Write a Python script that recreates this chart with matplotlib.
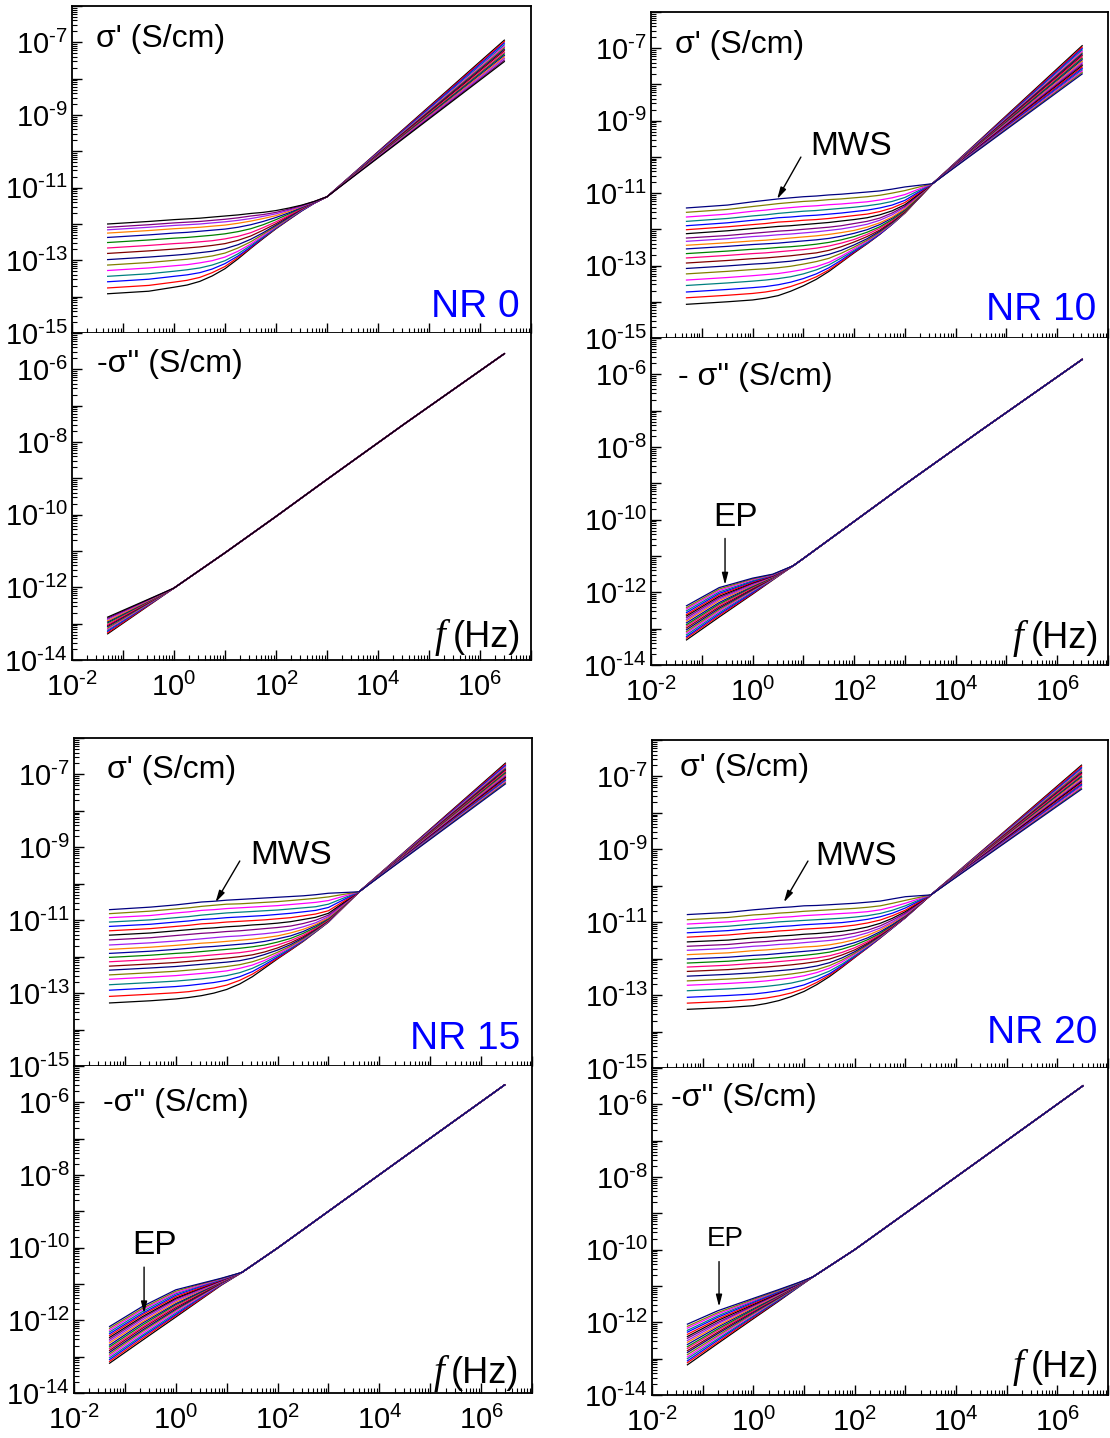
import numpy as np
import matplotlib
matplotlib.use('Agg')
import matplotlib.pyplot as plt
from matplotlib.ticker import FixedLocator, LogLocator, FuncFormatter, NullFormatter

plt.rcParams['font.family'] = ['Liberation Sans', 'DejaVu Sans']
plt.rcParams['mathtext.fontset'] = 'custom'
plt.rcParams['mathtext.rm'] = 'Liberation Sans'
plt.rcParams['mathtext.it'] = 'Liberation Sans:italic'
plt.rcParams['mathtext.bf'] = 'Liberation Sans:bold'

# Origin-like colour increment list, repeats every 14 curves
colors = ['#000000', '#FF0000', '#0000FF', '#008080', '#FF00FF', '#808000', '#000080',
          '#800000', '#FF0080', '#008000', '#0000A0', '#FF8000', '#A020F0', '#800080']

# ---------------- data: log10 values ----------------
# sigma' (real part), one row per temperature, columns follow freq_re_*
freq_re_nr0 = [0.05, 0.32, 1, 1.8, 3.2, 5.6, 10, 18, 32, 56, 100, 180, 320, 560, 1000, 3.0e6]
re_nr0 = [
    [-13.92, -13.85, -13.74, -13.68, -13.58, -13.43, -13.23, -12.96, -12.67, -12.40, -12.13, -11.88, -11.64, -11.43, -11.25, -6.94],
    [-13.76, -13.69, -13.60, -13.55, -13.47, -13.34, -13.17, -12.92, -12.65, -12.38, -12.12, -11.87, -11.63, -11.43, -11.25, -6.98],
    [-13.59, -13.52, -13.44, -13.40, -13.34, -13.24, -13.09, -12.88, -12.63, -12.37, -12.11, -11.86, -11.63, -11.43, -11.25, -7.02],
    [-13.44, -13.37, -13.30, -13.26, -13.21, -13.13, -13.01, -12.82, -12.59, -12.35, -12.10, -11.85, -11.62, -11.42, -11.25, -7.07],
    [-13.28, -13.21, -13.15, -13.12, -13.07, -13.01, -12.91, -12.75, -12.55, -12.32, -12.08, -11.84, -11.61, -11.42, -11.25, -7.11],
    [-13.13, -13.06, -13.00, -12.97, -12.93, -12.88, -12.80, -12.66, -12.49, -12.28, -12.06, -11.83, -11.60, -11.41, -11.25, -7.15],
    [-12.98, -12.91, -12.86, -12.83, -12.79, -12.75, -12.68, -12.57, -12.42, -12.24, -12.03, -11.81, -11.59, -11.41, -11.25, -7.19],
    [-12.81, -12.74, -12.69, -12.66, -12.63, -12.59, -12.54, -12.45, -12.33, -12.17, -11.99, -11.78, -11.58, -11.41, -11.25, -7.23],
    [-12.66, -12.59, -12.54, -12.52, -12.49, -12.46, -12.41, -12.34, -12.24, -12.10, -11.94, -11.76, -11.57, -11.40, -11.25, -7.28],
    [-12.51, -12.44, -12.39, -12.37, -12.34, -12.31, -12.27, -12.21, -12.13, -12.02, -11.88, -11.72, -11.55, -11.40, -11.25, -7.32],
    [-12.37, -12.30, -12.25, -12.23, -12.20, -12.17, -12.14, -12.09, -12.02, -11.93, -11.82, -11.69, -11.54, -11.40, -11.25, -7.36],
    [-12.25, -12.18, -12.13, -12.11, -12.09, -12.06, -12.03, -11.98, -11.92, -11.85, -11.77, -11.65, -11.52, -11.39, -11.25, -7.40],
    [-12.16, -12.09, -12.04, -12.02, -12.00, -11.97, -11.94, -11.90, -11.85, -11.79, -11.72, -11.62, -11.51, -11.39, -11.25, -7.44],
    [-12.09, -12.02, -11.97, -11.95, -11.93, -11.90, -11.87, -11.83, -11.78, -11.74, -11.68, -11.59, -11.49, -11.38, -11.25, -7.49],
    [-12.00, -11.93, -11.88, -11.86, -11.84, -11.81, -11.78, -11.75, -11.71, -11.68, -11.63, -11.56, -11.48, -11.38, -11.25, -7.53],
]

freq_re_nr10 = [0.05, 0.32, 1, 1.8, 3.2, 5.6, 10, 18, 32, 56, 100, 180, 320, 560, 1000, 3500, 3.1e6]
re_nr10 = [
    [-14.07, -14.00, -13.95, -13.90, -13.83, -13.71, -13.56, -13.38, -13.16, -12.91, -12.65, -12.40, -12.14, -11.86, -11.55, -10.74, -6.93],
    [-13.89, -13.82, -13.77, -13.73, -13.67, -13.58, -13.46, -13.31, -13.12, -12.89, -12.63, -12.39, -12.13, -11.86, -11.55, -10.74, -6.97],
    [-13.73, -13.66, -13.61, -13.58, -13.53, -13.46, -13.36, -13.23, -13.06, -12.85, -12.61, -12.38, -12.13, -11.86, -11.54, -10.74, -7.01],
    [-13.55, -13.48, -13.43, -13.40, -13.36, -13.31, -13.23, -13.12, -12.98, -12.79, -12.58, -12.36, -12.11, -11.85, -11.54, -10.74, -7.05],
    [-13.40, -13.33, -13.28, -13.25, -13.22, -13.17, -13.11, -13.03, -12.91, -12.74, -12.54, -12.33, -12.10, -11.84, -11.53, -10.74, -7.09],
    [-13.23, -13.16, -13.11, -13.09, -13.06, -13.02, -12.96, -12.89, -12.80, -12.66, -12.49, -12.30, -12.08, -11.83, -11.53, -10.74, -7.13],
    [-13.08, -13.01, -12.96, -12.94, -12.91, -12.88, -12.83, -12.77, -12.69, -12.58, -12.43, -12.26, -12.05, -11.81, -11.52, -10.74, -7.16],
    [-12.93, -12.86, -12.81, -12.79, -12.76, -12.73, -12.69, -12.65, -12.58, -12.48, -12.35, -12.20, -12.02, -11.79, -11.51, -10.74, -7.20],
    [-12.79, -12.72, -12.67, -12.65, -12.62, -12.59, -12.56, -12.52, -12.46, -12.38, -12.28, -12.14, -11.97, -11.76, -11.49, -10.74, -7.24],
    [-12.67, -12.60, -12.55, -12.53, -12.50, -12.48, -12.45, -12.41, -12.36, -12.29, -12.20, -12.08, -11.93, -11.73, -11.48, -10.74, -7.28],
    [-12.54, -12.47, -12.42, -12.40, -12.38, -12.35, -12.32, -12.29, -12.25, -12.19, -12.11, -12.01, -11.87, -11.69, -11.45, -10.74, -7.32],
    [-12.44, -12.37, -12.32, -12.30, -12.27, -12.24, -12.21, -12.18, -12.14, -12.09, -12.03, -11.94, -11.82, -11.66, -11.43, -10.74, -7.36],
    [-12.33, -12.26, -12.20, -12.18, -12.15, -12.13, -12.10, -12.07, -12.03, -11.99, -11.93, -11.86, -11.75, -11.60, -11.39, -10.74, -7.40],
    [-12.24, -12.17, -12.11, -12.08, -12.05, -12.03, -12.00, -11.97, -11.94, -11.90, -11.84, -11.78, -11.69, -11.55, -11.36, -10.74, -7.44],
    [-12.12, -12.04, -11.98, -11.95, -11.92, -11.90, -11.87, -11.84, -11.81, -11.77, -11.73, -11.68, -11.60, -11.49, -11.32, -10.74, -7.48],
    [-12.01, -11.93, -11.87, -11.84, -11.80, -11.78, -11.75, -11.73, -11.70, -11.66, -11.62, -11.58, -11.51, -11.41, -11.26, -10.74, -7.52],
    [-11.90, -11.82, -11.75, -11.72, -11.68, -11.66, -11.63, -11.61, -11.58, -11.55, -11.51, -11.47, -11.41, -11.33, -11.20, -10.74, -7.56],
    [-11.78, -11.70, -11.63, -11.60, -11.56, -11.53, -11.50, -11.48, -11.45, -11.42, -11.39, -11.35, -11.30, -11.23, -11.12, -10.74, -7.60],
    [-11.66, -11.58, -11.50, -11.47, -11.43, -11.40, -11.37, -11.35, -11.32, -11.30, -11.27, -11.24, -11.19, -11.13, -11.04, -10.74, -7.63],
    [-11.53, -11.45, -11.37, -11.33, -11.29, -11.26, -11.23, -11.21, -11.18, -11.16, -11.13, -11.10, -11.06, -11.00, -10.93, -10.74, -7.67],
    [-11.41, -11.33, -11.24, -11.20, -11.16, -11.13, -11.10, -11.08, -11.05, -11.03, -11.00, -10.97, -10.94, -10.89, -10.83, -10.74, -7.71],
]

freq_re_nr15 = [0.05, 0.32, 1, 1.8, 3.2, 5.6, 10, 18, 32, 56, 100, 180, 320, 560, 1000, 4000, 3.0e6]
re_nr15 = [
    [-13.27, -13.21, -13.16, -13.12, -13.07, -13.00, -12.90, -12.75, -12.55, -12.31, -12.06, -11.82, -11.58, -11.32, -11.05, -10.22, -6.69],
    [-13.09, -13.03, -12.99, -12.96, -12.91, -12.86, -12.78, -12.65, -12.48, -12.27, -12.04, -11.81, -11.57, -11.32, -11.05, -10.22, -6.72],
    [-12.92, -12.86, -12.82, -12.79, -12.75, -12.71, -12.65, -12.55, -12.41, -12.22, -12.01, -11.79, -11.56, -11.31, -11.04, -10.22, -6.75],
    [-12.77, -12.71, -12.67, -12.64, -12.61, -12.57, -12.52, -12.44, -12.32, -12.16, -11.97, -11.77, -11.55, -11.31, -11.04, -10.22, -6.78],
    [-12.62, -12.56, -12.52, -12.49, -12.46, -12.43, -12.39, -12.32, -12.23, -12.10, -11.93, -11.74, -11.53, -11.29, -11.03, -10.22, -6.80],
    [-12.50, -12.44, -12.40, -12.37, -12.34, -12.31, -12.27, -12.22, -12.14, -12.03, -11.88, -11.71, -11.51, -11.28, -11.02, -10.22, -6.83],
    [-12.37, -12.31, -12.27, -12.24, -12.21, -12.18, -12.15, -12.11, -12.04, -11.94, -11.82, -11.67, -11.48, -11.26, -11.01, -10.22, -6.86],
    [-12.26, -12.20, -12.16, -12.13, -12.10, -12.07, -12.04, -12.00, -11.95, -11.87, -11.76, -11.62, -11.45, -11.24, -11.00, -10.22, -6.89],
    [-12.14, -12.08, -12.03, -12.01, -11.98, -11.95, -11.92, -11.89, -11.84, -11.77, -11.68, -11.56, -11.41, -11.22, -10.99, -10.22, -6.92],
    [-12.02, -11.96, -11.91, -11.89, -11.86, -11.83, -11.80, -11.77, -11.73, -11.68, -11.60, -11.50, -11.36, -11.19, -10.97, -10.22, -6.95],
    [-11.91, -11.85, -11.80, -11.77, -11.74, -11.72, -11.69, -11.66, -11.63, -11.58, -11.51, -11.43, -11.31, -11.15, -10.95, -10.22, -6.98],
    [-11.80, -11.74, -11.69, -11.66, -11.63, -11.61, -11.58, -11.55, -11.52, -11.48, -11.43, -11.35, -11.25, -11.12, -10.93, -10.22, -7.00],
    [-11.68, -11.62, -11.57, -11.54, -11.51, -11.48, -11.45, -11.43, -11.40, -11.37, -11.33, -11.27, -11.18, -11.07, -10.90, -10.22, -7.03],
    [-11.54, -11.48, -11.42, -11.39, -11.36, -11.34, -11.31, -11.29, -11.26, -11.23, -11.20, -11.16, -11.09, -11.00, -10.86, -10.22, -7.06],
    [-11.41, -11.35, -11.29, -11.26, -11.23, -11.21, -11.18, -11.16, -11.13, -11.11, -11.08, -11.04, -10.98, -10.92, -10.81, -10.22, -7.09],
    [-11.29, -11.23, -11.17, -11.14, -11.10, -11.08, -11.05, -11.03, -11.01, -10.99, -10.96, -10.93, -10.88, -10.83, -10.74, -10.22, -7.12],
    [-11.17, -11.11, -11.05, -11.02, -10.98, -10.96, -10.93, -10.91, -10.89, -10.87, -10.84, -10.81, -10.77, -10.73, -10.65, -10.22, -7.15],
    [-11.05, -10.99, -10.93, -10.90, -10.86, -10.83, -10.80, -10.78, -10.76, -10.74, -10.72, -10.69, -10.66, -10.63, -10.56, -10.22, -7.17],
    [-10.93, -10.87, -10.80, -10.77, -10.73, -10.71, -10.68, -10.66, -10.64, -10.62, -10.60, -10.57, -10.54, -10.51, -10.46, -10.22, -7.20],
    [-10.82, -10.75, -10.69, -10.66, -10.62, -10.59, -10.56, -10.55, -10.53, -10.51, -10.49, -10.46, -10.43, -10.40, -10.36, -10.22, -7.23],
    [-10.71, -10.64, -10.58, -10.54, -10.50, -10.48, -10.45, -10.43, -10.41, -10.39, -10.37, -10.35, -10.33, -10.30, -10.26, -10.22, -7.26],
]

freq_re_nr20 = [0.05, 0.32, 1, 1.8, 3.2, 5.6, 10, 18, 32, 56, 100, 180, 320, 560, 1000, 3200, 3.0e6]
re_nr20 = [
    [-13.39, -13.34, -13.29, -13.23, -13.15, -13.04, -12.90, -12.71, -12.49, -12.24, -11.97, -11.70, -11.43, -11.16, -10.88, -10.25, -6.69],
    [-13.22, -13.17, -13.12, -13.08, -13.02, -12.94, -12.82, -12.65, -12.45, -12.22, -11.96, -11.70, -11.43, -11.15, -10.87, -10.25, -6.72],
    [-13.06, -13.01, -12.97, -12.93, -12.88, -12.81, -12.72, -12.58, -12.41, -12.19, -11.94, -11.69, -11.42, -11.15, -10.87, -10.25, -6.76],
    [-12.88, -12.83, -12.79, -12.76, -12.72, -12.67, -12.59, -12.48, -12.34, -12.15, -11.92, -11.67, -11.41, -11.14, -10.87, -10.25, -6.79],
    [-12.73, -12.68, -12.64, -12.61, -12.57, -12.53, -12.47, -12.38, -12.26, -12.09, -11.88, -11.65, -11.40, -11.14, -10.87, -10.25, -6.82],
    [-12.61, -12.56, -12.52, -12.49, -12.46, -12.42, -12.37, -12.30, -12.19, -12.04, -11.85, -11.63, -11.39, -11.13, -10.86, -10.25, -6.85],
    [-12.48, -12.43, -12.39, -12.36, -12.33, -12.30, -12.26, -12.20, -12.11, -11.98, -11.81, -11.60, -11.37, -11.12, -10.86, -10.25, -6.89],
    [-12.35, -12.30, -12.25, -12.23, -12.20, -12.17, -12.13, -12.08, -12.01, -11.90, -11.76, -11.57, -11.35, -11.11, -10.85, -10.25, -6.92],
    [-12.23, -12.18, -12.13, -12.11, -12.08, -12.05, -12.02, -11.98, -11.92, -11.83, -11.70, -11.53, -11.33, -11.10, -10.84, -10.25, -6.95],
    [-12.12, -12.07, -12.02, -12.00, -11.97, -11.94, -11.91, -11.87, -11.82, -11.74, -11.63, -11.48, -11.30, -11.08, -10.83, -10.25, -6.99],
    [-12.01, -11.96, -11.91, -11.89, -11.86, -11.83, -11.80, -11.77, -11.73, -11.66, -11.56, -11.43, -11.26, -11.06, -10.82, -10.25, -7.02],
    [-11.89, -11.84, -11.78, -11.76, -11.73, -11.71, -11.68, -11.66, -11.62, -11.56, -11.48, -11.36, -11.21, -11.02, -10.80, -10.25, -7.05],
    [-11.77, -11.72, -11.66, -11.64, -11.61, -11.59, -11.56, -11.53, -11.50, -11.46, -11.39, -11.29, -11.16, -10.99, -10.78, -10.25, -7.09],
    [-11.66, -11.61, -11.55, -11.53, -11.50, -11.48, -11.45, -11.43, -11.40, -11.36, -11.30, -11.22, -11.10, -10.94, -10.75, -10.25, -7.12],
    [-11.54, -11.49, -11.43, -11.41, -11.38, -11.36, -11.33, -11.31, -11.28, -11.25, -11.20, -11.13, -11.03, -10.89, -10.71, -10.25, -7.15],
    [-11.41, -11.35, -11.29, -11.27, -11.24, -11.22, -11.19, -11.17, -11.15, -11.12, -11.08, -11.02, -10.94, -10.82, -10.67, -10.25, -7.19],
    [-11.29, -11.23, -11.17, -11.15, -11.12, -11.10, -11.07, -11.05, -11.03, -11.01, -10.97, -10.92, -10.85, -10.75, -10.61, -10.25, -7.22],
    [-11.17, -11.11, -11.05, -11.02, -10.99, -10.97, -10.95, -10.93, -10.91, -10.89, -10.86, -10.82, -10.76, -10.67, -10.55, -10.25, -7.25],
    [-11.05, -10.99, -10.93, -10.90, -10.87, -10.85, -10.82, -10.80, -10.78, -10.76, -10.74, -10.71, -10.66, -10.58, -10.48, -10.25, -7.28],
    [-10.93, -10.87, -10.80, -10.78, -10.75, -10.73, -10.70, -10.68, -10.66, -10.64, -10.62, -10.59, -10.55, -10.48, -10.40, -10.25, -7.32],
    [-10.79, -10.73, -10.66, -10.63, -10.60, -10.58, -10.55, -10.54, -10.52, -10.50, -10.48, -10.45, -10.42, -10.36, -10.30, -10.25, -7.35],
]

# -sigma'' (imaginary part): per-curve low-frequency part + shared high-frequency line
freq_im_lo_nr0 = [0.05]
im_lo_nr0 = [[-13.28], [-13.25], [-13.21], [-13.18], [-13.15], [-13.12], [-13.08], [-13.05],
             [-13.02], [-12.98], [-12.95], [-12.92], [-12.88], [-12.85], [-12.82]]
freq_im_hi_nr0 = [1, 10, 100, 1000, 31600, 3.0e6]
im_hi_nr0 = [-12.02, -11.05, -10.05, -9.03, -7.52, -5.57]

freq_im_lo_nr10 = [0.05, 0.22, 1, 2.5]
im_lo_nr10 = [
    [-13.31, -12.68, -12.05, -11.66], [-13.26, -12.64, -12.03, -11.65], [-13.22, -12.60, -12.01, -11.64],
    [-13.17, -12.56, -11.98, -11.64], [-13.12, -12.52, -11.96, -11.63], [-13.08, -12.48, -11.94, -11.62],
    [-13.03, -12.44, -11.92, -11.61], [-12.98, -12.40, -11.90, -11.60], [-12.93, -12.36, -11.87, -11.60],
    [-12.89, -12.32, -11.85, -11.59], [-12.84, -12.28, -11.83, -11.58], [-12.79, -12.23, -11.81, -11.57],
    [-12.75, -12.19, -11.79, -11.56], [-12.70, -12.15, -11.76, -11.56], [-12.65, -12.11, -11.74, -11.55],
    [-12.61, -12.07, -11.72, -11.54], [-12.56, -12.03, -11.70, -11.53], [-12.51, -11.99, -11.68, -11.52],
    [-12.46, -11.95, -11.65, -11.52], [-12.42, -11.91, -11.63, -11.51], [-12.37, -11.87, -11.61, -11.50],
]
freq_im_hi_nr10 = [6.3, 10, 100, 1000, 31600, 3.1e6]
im_hi_nr10 = [-11.27, -11.07, -10.05, -9.03, -7.54, -5.59]

freq_im_lo_nr15 = [0.05, 0.22, 1, 2.8, 7.9]
im_lo_nr15 = [
    [-13.18, -12.55, -11.91, -11.47, -11.03], [-13.13, -12.50, -11.87, -11.45, -11.02],
    [-13.08, -12.45, -11.84, -11.42, -11.01], [-13.03, -12.41, -11.80, -11.40, -11.00],
    [-12.98, -12.36, -11.76, -11.38, -10.99], [-12.93, -12.31, -11.72, -11.35, -10.98],
    [-12.88, -12.27, -11.69, -11.33, -10.97], [-12.83, -12.22, -11.65, -11.31, -10.96],
    [-12.78, -12.18, -11.61, -11.28, -10.95], [-12.73, -12.13, -11.57, -11.26, -10.94],
    [-12.68, -12.08, -11.54, -11.24, -10.94], [-12.62, -12.04, -11.50, -11.21, -10.93],
    [-12.57, -11.99, -11.46, -11.19, -10.92], [-12.52, -11.94, -11.42, -11.16, -10.91],
    [-12.47, -11.90, -11.39, -11.14, -10.90], [-12.42, -11.85, -11.35, -11.12, -10.89],
    [-12.37, -11.81, -11.31, -11.09, -10.88], [-12.32, -11.76, -11.27, -11.07, -10.87],
    [-12.27, -11.71, -11.24, -11.05, -10.86], [-12.22, -11.67, -11.20, -11.02, -10.85],
    [-12.17, -11.62, -11.16, -11.00, -10.84],
]
freq_im_hi_nr15 = [20, 100, 1000, 31600, 2.9e6]
im_hi_nr15 = [-10.68, -10.01, -9.00, -7.49, -5.52]

freq_im_lo_nr20 = [0.05, 0.2, 1, 3.0, 7.6]
im_lo_nr20 = [
    [-13.17, -12.58, -11.90, -11.44, -11.04], [-13.11, -12.54, -11.87, -11.42, -11.03],
    [-13.06, -12.49, -11.84, -11.41, -11.03], [-13.00, -12.45, -11.82, -11.39, -11.02],
    [-12.95, -12.40, -11.79, -11.37, -11.01], [-12.89, -12.36, -11.76, -11.36, -11.01],
    [-12.83, -12.31, -11.73, -11.34, -11.00], [-12.78, -12.27, -11.70, -11.32, -10.99],
    [-12.72, -12.22, -11.68, -11.31, -10.99], [-12.67, -12.18, -11.65, -11.29, -10.98],
    [-12.61, -12.13, -11.62, -11.28, -10.98], [-12.55, -12.09, -11.59, -11.26, -10.97],
    [-12.50, -12.04, -11.56, -11.24, -10.96], [-12.44, -12.00, -11.54, -11.23, -10.96],
    [-12.39, -11.95, -11.51, -11.21, -10.95], [-12.33, -11.91, -11.48, -11.19, -10.94],
    [-12.27, -11.86, -11.45, -11.18, -10.94], [-12.22, -11.82, -11.42, -11.16, -10.93],
    [-12.16, -11.77, -11.40, -11.14, -10.92], [-12.11, -11.73, -11.37, -11.13, -10.92],
    [-12.05, -11.68, -11.34, -11.11, -10.91],
]
freq_im_hi_nr20 = [15, 100, 1000, 31600, 3.2e6]
im_hi_nr20 = [-10.75, -10.00, -9.00, -7.50, -5.49]

# ---------------- figure ----------------
W, H = 1110, 1438
fig = plt.figure(figsize=(W / 100, H / 100), dpi=100)


def add_ax(l, t, r, b):
    return fig.add_axes([l / W, 1 - b / H, (r - l) / W, (b - t) / H])


def exp_fmt(keep):
    def f(v, pos):
        k = int(round(np.log10(v)))
        if k not in keep:
            return ''
        s = str(k).replace('-', '\u2010')
        return r'$10^{%s}$' % s
    return FuncFormatter(f)


def style(ax, ylo, yhi, ykeep, xlabels):
    ax.set_xscale('log')
    ax.set_yscale('log')
    ax.set_xlim(1e-2, 1e7)
    ax.set_ylim(10.0 ** ylo, 10.0 ** yhi)
    ax.xaxis.set_major_locator(FixedLocator([10.0 ** k for k in range(-2, 8)]))
    ax.yaxis.set_major_locator(FixedLocator([10.0 ** k for k in range(ylo, yhi + 1)]))
    ax.xaxis.set_minor_locator(LogLocator(base=10, subs=np.arange(2, 10), numticks=100))
    ax.yaxis.set_minor_locator(LogLocator(base=10, subs=np.arange(2, 10), numticks=100))
    ax.xaxis.set_minor_formatter(NullFormatter())
    ax.yaxis.set_minor_formatter(NullFormatter())
    ax.xaxis.set_major_formatter(exp_fmt([-2, 0, 2, 4, 6]))
    ax.yaxis.set_major_formatter(exp_fmt(ykeep))
    ax.tick_params(which='both', direction='in', top=False, right=False, labelsize=21)
    ax.tick_params(which='major', length=7, width=1.0)
    ax.tick_params(which='minor', length=3.5, width=0.8)
    ax.tick_params(axis='y', pad=3)
    ax.tick_params(axis='x', pad=9, labelbottom=xlabels)
    for s in ax.spines.values():
        s.set_linewidth(1.3)


def draw_re(ax, f, rows):
    for i, row in enumerate(rows):
        ax.plot(f, 10.0 ** np.array(row), color=colors[i % 14], lw=0.9)


def draw_im(ax, f_lo, rows, f_hi, hi):
    for i, row in enumerate(rows):
        ax.plot(f_lo + f_hi, 10.0 ** np.array(row + hi), color=colors[i % 14], lw=0.9)


def f_hz(ax, x, y):
    t = ax.text(x, y, '(Hz)', transform=ax.transAxes, fontsize=26, ha='right', va='center')
    ax.annotate('f', xy=(0, 0.5), xycoords=t, xytext=(-5, 0), textcoords='offset points',
                ha='right', va='center', fontsize=28, family='Liberation Serif', style='italic')


def arrow(ax, tail, tip):
    ax.annotate('', xy=tip, xycoords='axes fraction', xytext=tail, textcoords='axes fraction',
                arrowprops=dict(arrowstyle='-|>,head_length=0.7,head_width=0.18', color='black',
                                lw=1.0, shrinkA=0, shrinkB=0))


up_keep = [-7, -9, -11, -13, -15]
lo_keep = [-6, -8, -10, -12, -14]

# ---- NR 0 (top left)
a1 = add_ax(72, 6, 531, 333)
a2 = add_ax(72, 333, 531, 660)
draw_re(a1, freq_re_nr0, re_nr0)
draw_im(a2, freq_im_lo_nr0, im_lo_nr0, freq_im_hi_nr0, im_hi_nr0)
style(a1, -15, -6, up_keep, False)
style(a2, -14, -5, lo_keep, True)
a2.spines['top'].set_visible(False)
a1.text(0.052, 0.90, "σ' (S/cm)", transform=a1.transAxes, fontsize=23, va='center')
a1.text(0.975, 0.025, 'NR 0', transform=a1.transAxes, fontsize=28, color='#0000FF',
        ha='right', va='bottom')
a2.text(0.054, 0.904, "-σ'' (S/cm)", transform=a2.transAxes, fontsize=23, va='center')
f_hz(a2, 0.978, 0.07)

# ---- NR 10 (top right)
b1 = add_ax(651, 12, 1108, 338)
b2 = add_ax(651, 338, 1108, 665)
draw_re(b1, freq_re_nr10, re_nr10)
draw_im(b2, freq_im_lo_nr10, im_lo_nr10, freq_im_hi_nr10, im_hi_nr10)
style(b1, -15, -6, up_keep, False)
style(b2, -14, -5, lo_keep, True)
b2.spines['top'].set_visible(False)
b1.text(0.053, 0.90, "σ' (S/cm)", transform=b1.transAxes, fontsize=23, va='center')
b1.text(0.974, 0.03, 'NR 10', transform=b1.transAxes, fontsize=28, color='#0000FF',
        ha='right', va='bottom')
b1.text(0.348, 0.587, 'MWS', transform=b1.transAxes, fontsize=24, va='center')
arrow(b1, (0.328, 0.555), (0.276, 0.426))
b2.text(0.06, 0.882, "- σ'' (S/cm)", transform=b2.transAxes, fontsize=23, va='center')
b2.text(0.136, 0.45, 'EP', transform=b2.transAxes, fontsize=24, va='center')
arrow(b2, (0.162, 0.387), (0.162, 0.245))
f_hz(b2, 0.98, 0.08)

# ---- NR 15 (bottom left)
c1 = add_ax(74, 738, 532, 1066)
c2 = add_ax(74, 1066, 532, 1393)
draw_re(c1, freq_re_nr15, re_nr15)
draw_im(c2, freq_im_lo_nr15, im_lo_nr15, freq_im_hi_nr15, im_hi_nr15)
style(c1, -15, -6, up_keep, False)
style(c2, -14, -5, lo_keep, True)
c2.spines['top'].set_visible(False)
c1.text(0.072, 0.903, "σ' (S/cm)", transform=c1.transAxes, fontsize=23, va='center')
c1.text(0.975, 0.026, 'NR 15', transform=c1.transAxes, fontsize=28, color='#0000FF',
        ha='right', va='bottom')
c1.text(0.384, 0.641, 'MWS', transform=c1.transAxes, fontsize=24, va='center')
arrow(c1, (0.362, 0.625), (0.309, 0.499))
c2.text(0.064, 0.887, "-σ'' (S/cm)", transform=c2.transAxes, fontsize=23, va='center')
c2.text(0.127, 0.45, 'EP', transform=c2.transAxes, fontsize=24, va='center')
arrow(c2, (0.153, 0.385), (0.153, 0.243))
f_hz(c2, 0.972, 0.06)

# ---- NR 20 (bottom right)
d1 = add_ax(652, 740, 1108, 1068)
d2 = add_ax(652, 1068, 1108, 1395)
draw_re(d1, freq_re_nr20, re_nr20)
draw_im(d2, freq_im_lo_nr20, im_lo_nr20, freq_im_hi_nr20, im_hi_nr20)
style(d1, -15, -6, up_keep, False)
style(d2, -14, -5, lo_keep, True)
d2.spines['top'].set_visible(False)
d1.text(0.061, 0.915, "σ' (S/cm)", transform=d1.transAxes, fontsize=23, va='center')
d1.text(0.977, 0.053, 'NR 20', transform=d1.transAxes, fontsize=28, color='#0000FF',
        ha='right', va='bottom')
d1.text(0.358, 0.646, 'MWS', transform=d1.transAxes, fontsize=24, va='center')
arrow(d1, (0.342, 0.631), (0.289, 0.505))
d2.text(0.041, 0.908, "-σ'' (S/cm)", transform=d2.transAxes, fontsize=23, va='center')
d2.text(0.121, 0.477, 'EP', transform=d2.transAxes, fontsize=20, va='center')
arrow(d2, (0.147, 0.408), (0.147, 0.27))
f_hz(d2, 0.98, 0.085)

fig.savefig('out.png', dpi=100)
